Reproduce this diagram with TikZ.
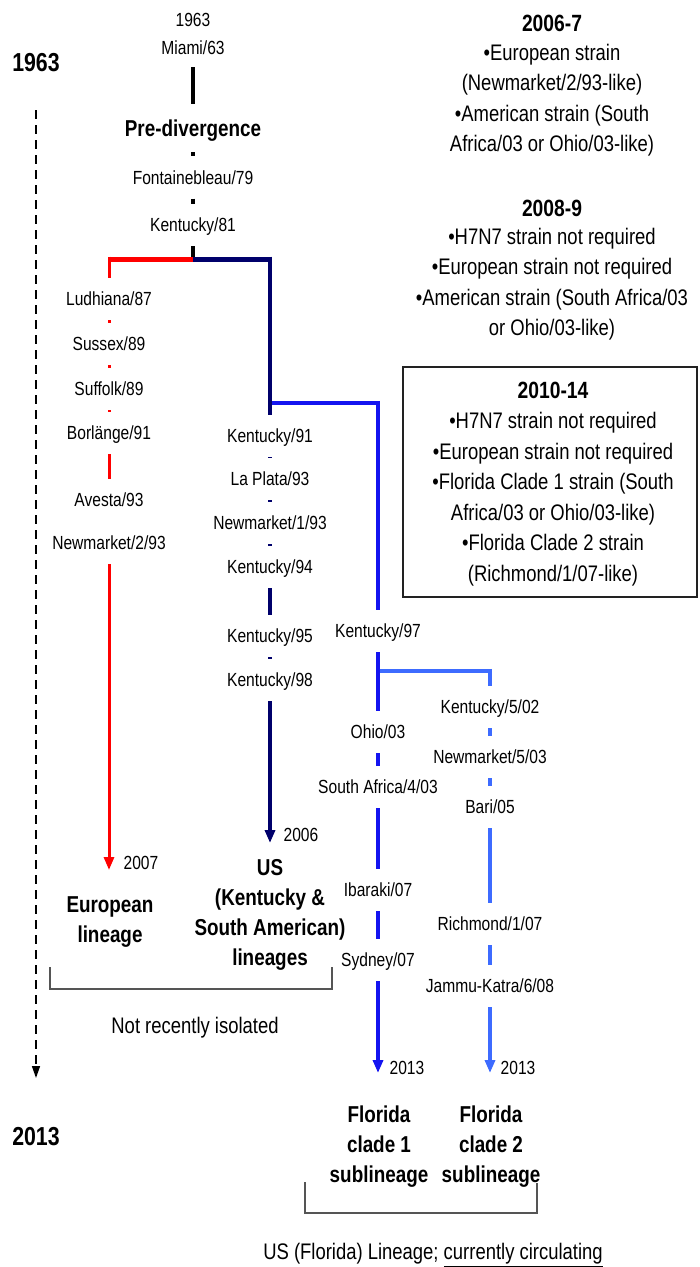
\documentclass[tikz,border=0pt]{standalone}
\usepackage{fontspec}
\setmainfont{Liberation Sans}[FakeStretch=0.82]
\usetikzlibrary{arrows.meta}
\definecolor{redL}{HTML}{FF0000}
\definecolor{navyL}{HTML}{00006B}
\definecolor{blueL}{HTML}{1414F0}
\definecolor{lblueL}{HTML}{3D6BFF}
\definecolor{brk}{HTML}{555555}
\definecolor{boxc}{HTML}{222222}
\newcommand{\szLab}{\fontsize{19pt}{22pt}\selectfont}
\newcommand{\szTxt}{\fontsize{22.5pt}{30.5pt}\selectfont}
\newcommand{\szHead}{\fontsize{23.5pt}{30.5pt}\selectfont\bfseries}
\newcommand{\szBold}{\fontsize{23pt}{30pt}\selectfont\bfseries}
\newcommand{\szYear}{\fontsize{26pt}{30pt}\selectfont\bfseries}
\begin{document}
\begin{tikzpicture}[x=1pt,y=-1pt,
  lab/.style={inner sep=0pt, minimum height=42pt, text height=15.8pt, text depth=2.2pt, font=\szLab},
  yr/.style={inner sep=0pt, font=\szLab},
  txt/.style={inner sep=0pt, font=\szTxt, align=center},
  head/.style={inner sep=0pt, font=\szHead},
  boldlab/.style={inner sep=0pt, font=\szBold, align=center},
  yearL/.style={inner sep=0pt, font=\szYear},
  arr/.style={-{Triangle[length=13pt,width=10pt]}},
  brack/.style={brk, line width=1.3pt},
]
\useasboundingbox (0,0) rectangle (700,1267);

% ---------- time axis ----------
\node[yearL] (y1963) at (36,63) {1963};
\node[yearL] (y2013) at (36,1137) {2013};
\coordinate (tlA) at (36,110);
\coordinate (tlB) at (36,1078);
\draw[dash pattern=on 9pt off 6pt, line width=1.5pt, -{Triangle[length=12pt,width=8pt]}] (tlA) -- (tlB);

% ---------- trunk ----------
\node[yr] (t1963) at (193,20) {1963};
\node[yr] (miami) at (193,48) {Miami/63};
\coordinate (trunkA) at (193,67);
\node[lab, font=\szBold, minimum height=48pt, text height=18pt, text depth=1.5pt] (prediv) at (193,128) {Pre-divergence};
\node[lab] (fontaine) at (193,177.5) {Fontainebleau/79};
\node[lab] (ky81) at (193,225) {Kentucky/81};
\coordinate (split) at (193,259);
\draw[line width=4pt] (trunkA) -- (prediv.north);
\draw[line width=4pt] (prediv.south) -- (fontaine.north);
\draw[line width=4pt] (fontaine.south) -- (ky81.north);
\draw[line width=4pt] (ky81.south) -- (split);

% ---------- European (red) ----------
\coordinate (redC) at (107.5,259);
\coordinate (redTop) at (109,256.5);
\coordinate (redEnd) at (109,870);
\draw[redL, line width=5pt] (split) -- (redC);
\node[lab] (ludh) at (109,299) {Ludhiana/87};
\node[lab] (sussex) at (109,344) {Sussex/89};
\node[lab] (suffolk) at (109,389) {Suffolk/89};
\node[lab] (borl) at (109,433) {Borlänge/91};
\node[lab] (avesta) at (109,500) {Avesta/93};
\node[lab] (nm293) at (109,543) {Newmarket/2/93};
\draw[redL, line width=3pt] (redTop) -- (ludh.north);
\draw[redL, line width=3pt] (ludh.south) -- (sussex.north);
\draw[redL, line width=3pt] (sussex.south) -- (suffolk.north);
\draw[redL, line width=3pt] (suffolk.south) -- (borl.north);
\draw[redL, line width=3pt] (borl.south) -- (avesta.north);
\draw[redL, line width=3pt, arr] (nm293.south) -- (redEnd);
\node[yr] (r2007) at (141,863) {2007};

% ---------- US Kentucky (navy) ----------
\coordinate (navC) at (271.75,259);
\coordinate (navTop) at (270,256.5);
\coordinate (navEnd) at (270,843);
\draw[navyL, line width=5pt] (split) -- (navC);
\node[lab] (ky91) at (270,436) {Kentucky/91};
\node[lab] (laplata) at (270,479) {La Plata/93};
\node[lab] (nm193) at (270,523) {Newmarket/1/93};
\node[lab] (ky94) at (270,567) {Kentucky/94};
\node[lab] (ky95) at (270,636) {Kentucky/95};
\node[lab] (ky98) at (270,680) {Kentucky/98};
\draw[navyL, line width=3.5pt] (navTop) -- (ky91.north);
\draw[navyL, line width=3.5pt] (ky91.south) -- (laplata.north);
\draw[navyL, line width=3.5pt] (laplata.south) -- (nm193.north);
\draw[navyL, line width=3.5pt] (nm193.south) -- (ky94.north);
\draw[navyL, line width=3.5pt] (ky94.south) -- (ky95.north);
\draw[navyL, line width=3.5pt] (ky95.south) -- (ky98.north);
\draw[navyL, line width=3.5pt, arr] (ky98.south) -- (navEnd);
\node[yr] (n2006) at (301,835) {2006};

% ---------- Florida clade 1 (blue) ----------
\coordinate (blueS) at (272,403);
\coordinate (blueC) at (379.65,403);
\coordinate (blueTop) at (378,400.75);
\coordinate (blueEnd) at (378,1073);
\draw[blueL, line width=4.5pt] (blueS) -- (blueC);
\node[lab] (ky97) at (378,631) {Kentucky/97};
\node[lab] (ohio) at (378,732) {Ohio/03};
\node[lab] (safr) at (378,787) {South Africa/4/03};
\node[lab] (ibaraki) at (378,890) {Ibaraki/07};
\node[lab] (sydney) at (378,960) {Sydney/07};
\draw[blueL, line width=3.3pt] (blueTop) -- (ky97.north);
\draw[blueL, line width=3.3pt] (ky97.south) -- (ohio.north);
\draw[blueL, line width=3.3pt] (ohio.south) -- (safr.north);
\draw[blueL, line width=3.3pt] (safr.south) -- (ibaraki.north);
\draw[blueL, line width=3.3pt] (ibaraki.south) -- (sydney.north);
\draw[blueL, line width=3.3pt, arr] (sydney.south) -- (blueEnd);
\node[yr] (b2013) at (407,1068) {2013};

% ---------- Florida clade 2 (light blue) ----------
\coordinate (lbS) at (379.65,671);
\coordinate (lbC) at (491.65,671);
\coordinate (lbTop) at (490,668.75);
\coordinate (lbEnd) at (490,1073);
\draw[lblueL, line width=4.5pt] (lbS) -- (lbC);
\node[lab] (ky502) at (490,707) {Kentucky/5/02};
\node[lab] (nm503) at (490,757) {Newmarket/5/03};
\node[lab] (bari) at (490,807) {Bari/05};
\node[lab] (richmond) at (490,924) {Richmond/1/07};
\node[lab] (jammu) at (490,986) {Jammu-Katra/6/08};
\draw[lblueL, line width=3.3pt] (lbTop) -- (ky502.north);
\draw[lblueL, line width=3.3pt] (ky502.south) -- (nm503.north);
\draw[lblueL, line width=3.3pt] (nm503.south) -- (bari.north);
\draw[lblueL, line width=3.3pt] (bari.south) -- (richmond.north);
\draw[lblueL, line width=3.3pt] (richmond.south) -- (jammu.north);
\draw[lblueL, line width=3.3pt, arr] (jammu.south) -- (lbEnd);
\node[yr] (l2013) at (518,1068) {2013};

% ---------- lineage names ----------
\node[boldlab] (euro) at (110,922) {European\\lineage};
\node[boldlab] (uslin) at (270,915) {US\\(Kentucky \&\\South American)\\lineages};
\node[boldlab] (fc1) at (379,1147) {Florida\\clade 1\\sublineage};
\node[boldlab] (fc2) at (491,1147) {Florida\\clade 2\\sublineage};

% ---------- brackets ----------
\coordinate (bA1) at (50,967);
\coordinate (bA2) at (50,989);
\coordinate (bA3) at (332,989);
\coordinate (bA4) at (332,967);
\draw[brack] (bA1) -- (bA2) -- (bA3) -- (bA4);
\node[txt] (notrec) at (195,1028) {Not recently isolated};
\coordinate (bB1) at (305,1182);
\coordinate (bB2) at (305,1213);
\coordinate (bB3) at (537,1213);
\coordinate (bB4) at (537,1183);
\draw[brack] (bB1) -- (bB2) -- (bB3) -- (bB4);
\node[txt] (flor) at (433,1255) {US (Florida) Lineage; \underline{currently circulating}};

% ---------- vaccine recommendations ----------
\node[head] (h067) at (552,23) {2006-7};
\node[txt] (t067) at (552,100) {•European strain\\(Newmarket/2/93-like)\\•American strain (South\\Africa/03 or Ohio/03-like)};
\node[head] (h089) at (552,208) {2008-9};
\node[txt] (t089) at (552,284) {•H7N7 strain not required\\•European strain not required\\•American strain (South Africa/03\\or Ohio/03-like)};
\node[draw=boxc, line width=1.3pt, minimum width=294pt, minimum height=230pt, inner sep=0pt] (box) at (550,482) {};
\node[head] (h1014) at (553,390) {2010-14};
\node[txt] (t1014) at (553,499) {•H7N7 strain not required\\•European strain not required\\•Florida Clade 1 strain (South\\Africa/03 or Ohio/03-like)\\•Florida Clade 2 strain\\(Richmond/1/07-like)};
\end{tikzpicture}
\end{document}
